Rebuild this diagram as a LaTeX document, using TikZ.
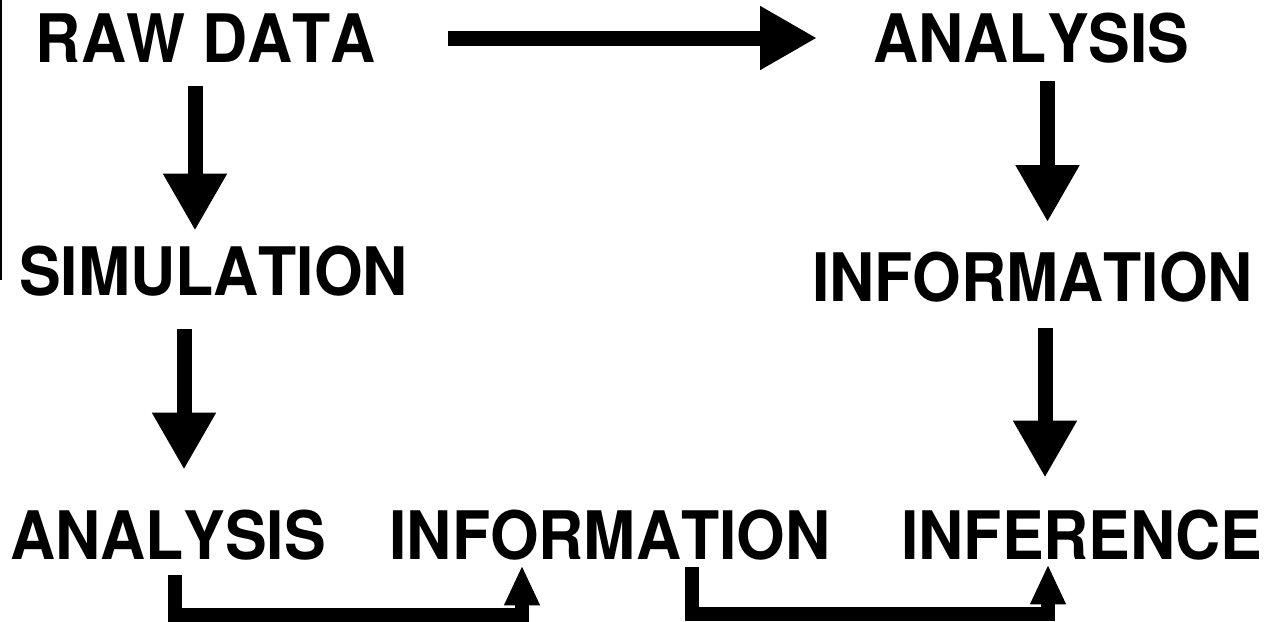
\documentclass[tikz,border=0pt]{standalone}
\usepackage{fontspec}
\setmainfont[Kerning=Off]{TeX Gyre Heros}
\usetikzlibrary{arrows.meta}
\begin{document}
\begin{tikzpicture}[x=1pt,y=-1pt,
  lbl/.style={inner sep=0pt,anchor=center,font=\fontsize{62.5}{62.5}\selectfont\bfseries},
  bigarrow/.style={line width=15pt,-{Triangle[width=60pt,length=57pt]}},
  bracketarrow/.style={line width=14pt,miter limit=10,-{Triangle[width=33pt,length=40pt]}}]
\useasboundingbox (0,0) rectangle (1273,621);
\newcommand{\tallcaps}[1]{\scalebox{1}[1.07]{#1}}
% scan edge line
\draw[line width=2.5pt] (1.2,0) -- (1.2,280);
% labels
\node[lbl] (raw)   at (206,38)     {\tallcaps{RAW DATA}};
\node[lbl] (ana1)  at (1031.5,38)  {\tallcaps{ANALYSIS}};
\node[lbl] (sim)   at (213.5,271)  {\tallcaps{SIMULATION}};
\node[lbl] (info1) at (1032.5,277.5) {\tallcaps{INFORMATION}};
\node[lbl] (ana2)  at (168,535)    {\tallcaps{ANALYSIS}};
\node[lbl] (info2) at (610,535)    {\tallcaps{INFORMATION}};
\node[lbl] (inf)   at (1082,535)   {\tallcaps{INFERENCE}};
% arrows
\draw[bigarrow] ([xshift=242pt]raw.center) -- ([xshift=-214.5pt]ana1.center);
\draw[bigarrow] ([xshift=-11pt,yshift=-23pt]raw.south) -- ([xshift=-18.5pt,yshift=15pt]sim.north);
\draw[bigarrow] ([xshift=-29.5pt,yshift=-33pt]sim.south) -- ([xshift=16pt,yshift=40pt]ana2.north);
\draw[bigarrow] ([xshift=16pt,yshift=-18pt]ana1.south) -- ([xshift=15pt,yshift=30pt]info1.north);
\draw[bigarrow] ([xshift=12.5pt,yshift=-25pt]info1.south) -- ([xshift=-37pt,yshift=32pt]inf.north);
% bracket arrows
\draw[bracketarrow] ([xshift=6.5pt,yshift=-15pt]ana2.south) -- ++(0,40) -| ([xshift=-88pt,yshift=-5pt]info2.south);
\draw[bracketarrow] ([xshift=81.5pt,yshift=-7pt]info2.south) -- ++(0,47) -| ([xshift=-34pt,yshift=-4pt]inf.south);
\end{tikzpicture}
\end{document}
